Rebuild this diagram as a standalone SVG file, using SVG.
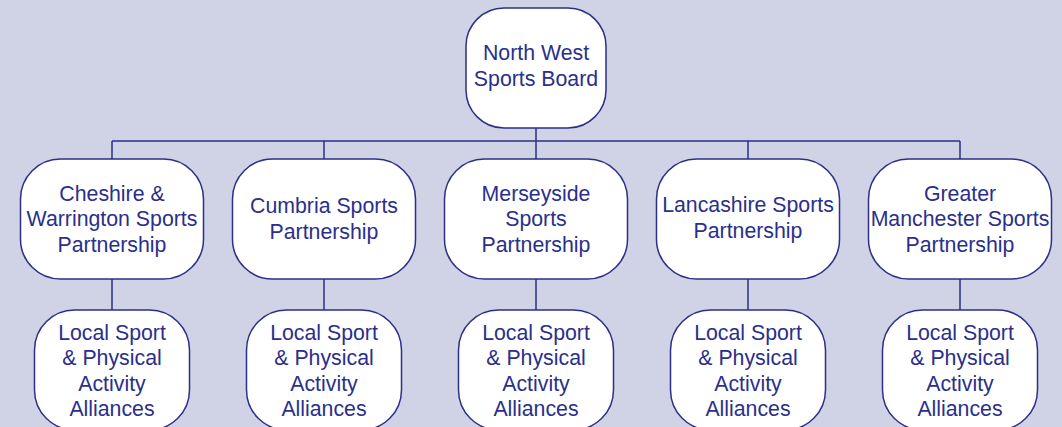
<svg xmlns="http://www.w3.org/2000/svg" width="1062" height="427" viewBox="0 0 1062 427">
  <style>
    .box { fill: #ffffff; stroke: #2b2f87; stroke-width: 1.5; }
    .link { stroke: #2b2f87; stroke-width: 1.5; fill: none; }
    text { font-family: "Liberation Sans", Arial, sans-serif; font-size: 21.3px; fill: #2a2f8c; text-anchor: middle; }
  </style>
  <rect x="0" y="0" width="1062" height="427" fill="#d0d3e6"/>

  <!-- connectors -->
  <g id="connectors">
    <path class="link" d="M536 128 V141 M112 141 H960 M112 141 V159 M324 141 V159 M536 141 V159 M748 141 V159 M960 141 V159"/>
    <path class="link" d="M112 279 V310 M324 279 V310 M536 279 V310 M748 279 V310 M960 279 V310"/>
  </g>

  <!-- top level -->
  <g id="board">
    <rect class="box" x="466" y="8" width="140" height="120" rx="38" ry="38"/>
    <text x="536" y="60">North West</text>
    <text x="536" y="86">Sports Board</text>
  </g>

  <!-- county partnerships -->
  <g id="cheshire">
    <rect class="box" x="20.5" y="159" width="183" height="120" rx="40" ry="40"/>
    <text x="112" y="200.5">Cheshire &amp;</text>
    <text x="112" y="226">Warrington Sports</text>
    <text x="112" y="251.5">Partnership</text>
  </g>
  <g id="cumbria">
    <rect class="box" x="232.5" y="159" width="183" height="120" rx="40" ry="40"/>
    <text x="324" y="213">Cumbria Sports</text>
    <text x="324" y="238.5">Partnership</text>
  </g>
  <g id="merseyside">
    <rect class="box" x="444.5" y="159" width="183" height="120" rx="40" ry="40"/>
    <text x="536" y="200.5">Merseyside</text>
    <text x="536" y="226">Sports</text>
    <text x="536" y="251.5">Partnership</text>
  </g>
  <g id="lancashire">
    <rect class="box" x="656.5" y="159" width="183" height="120" rx="40" ry="40"/>
    <text x="748" y="212">Lancashire Sports</text>
    <text x="748" y="237.5">Partnership</text>
  </g>
  <g id="greater-manchester">
    <rect class="box" x="868.5" y="159" width="183" height="120" rx="40" ry="40"/>
    <text x="960" y="200.5">Greater</text>
    <text x="960" y="226">Manchester Sports</text>
    <text x="960" y="251.5">Partnership</text>
  </g>

  <!-- local alliances -->
  <g id="alliances-cheshire">
    <rect class="box" x="34.5" y="310" width="155" height="120" rx="40" ry="40"/>
    <text x="112" y="339.5">Local Sport</text>
    <text x="112" y="365">&amp; Physical</text>
    <text x="112" y="390.5">Activity</text>
    <text x="112" y="416">Alliances</text>
  </g>
  <g id="alliances-cumbria">
    <rect class="box" x="246.5" y="310" width="155" height="120" rx="40" ry="40"/>
    <text x="324" y="339.5">Local Sport</text>
    <text x="324" y="365">&amp; Physical</text>
    <text x="324" y="390.5">Activity</text>
    <text x="324" y="416">Alliances</text>
  </g>
  <g id="alliances-merseyside">
    <rect class="box" x="458.5" y="310" width="155" height="120" rx="40" ry="40"/>
    <text x="536" y="339.5">Local Sport</text>
    <text x="536" y="365">&amp; Physical</text>
    <text x="536" y="390.5">Activity</text>
    <text x="536" y="416">Alliances</text>
  </g>
  <g id="alliances-lancashire">
    <rect class="box" x="670.5" y="310" width="155" height="120" rx="40" ry="40"/>
    <text x="748" y="339.5">Local Sport</text>
    <text x="748" y="365">&amp; Physical</text>
    <text x="748" y="390.5">Activity</text>
    <text x="748" y="416">Alliances</text>
  </g>
  <g id="alliances-greater-manchester">
    <rect class="box" x="882.5" y="310" width="155" height="120" rx="40" ry="40"/>
    <text x="960" y="339.5">Local Sport</text>
    <text x="960" y="365">&amp; Physical</text>
    <text x="960" y="390.5">Activity</text>
    <text x="960" y="416">Alliances</text>
  </g>
</svg>
